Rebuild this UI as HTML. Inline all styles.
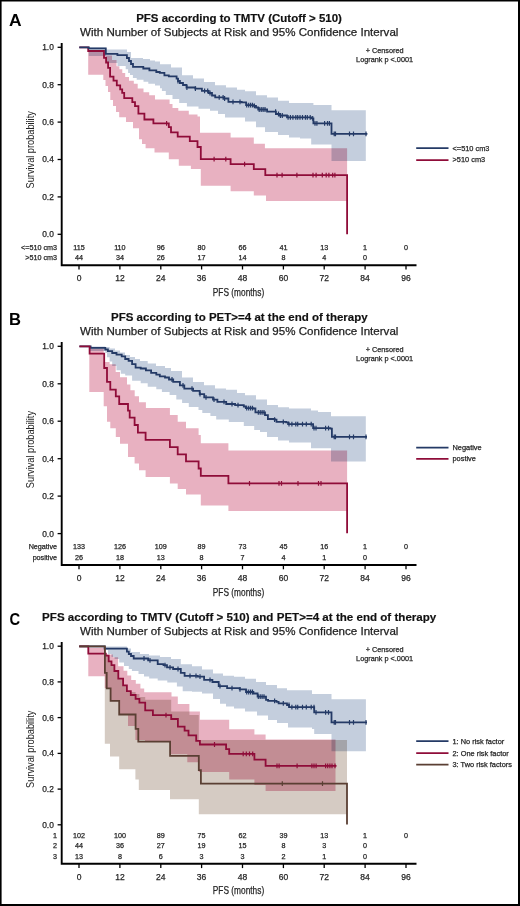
<!DOCTYPE html>
<html><head><meta charset="utf-8"><style>
html,body{margin:0;padding:0;background:#fff;width:520px;height:906px;overflow:hidden}
svg text{font-family:"Liberation Sans",sans-serif}
</style></head><body>
<svg width="520" height="906" viewBox="0 0 520 906" style="display:block">
<rect x="0" y="0" width="520" height="906" fill="#fff"/>
<text x="8.9" y="25.8" font-size="16.6" text-anchor="start" font-weight="bold" fill="#000" textLength="12.6" lengthAdjust="spacingAndGlyphs">A</text>
<text x="136.2" y="22.0" font-size="11.8" text-anchor="start" font-weight="bold" fill="#111" textLength="205.7" lengthAdjust="spacingAndGlyphs" stroke="#111" stroke-width="0.18">PFS according to TMTV (Cutoff &gt; 510)</text>
<text x="80.1" y="36.1" font-size="11.5" text-anchor="start" font-weight="normal" fill="#222" stroke="#222" stroke-width="0.25" textLength="318.3" lengthAdjust="spacingAndGlyphs">With Number of Subjects at Risk and 95% Confidence Interval</text>
<path d="M88.8 47.5 L105.8 47.5 L105.8 49.5 L127.0 49.5 L127.0 52.0 L131.0 52.0 L131.0 58.0 L143.0 58.0 L143.0 59.0 L150.0 59.0 L150.0 60.5 L155.0 60.5 L155.0 61.5 L160.0 61.5 L160.0 64.3 L171.0 64.3 L171.0 67.6 L182.0 67.6 L182.0 75.3 L193.0 75.3 L193.0 78.6 L204.0 78.6 L204.0 81.9 L215.0 81.9 L215.0 85.3 L226.0 85.3 L226.0 87.5 L237.0 87.5 L237.0 89.7 L245.0 89.7 L245.0 91.2 L256.0 91.2 L256.0 95.2 L267.0 95.2 L267.0 97.4 L278.0 97.4 L278.0 100.7 L289.0 100.7 L289.0 102.9 L313.4 102.9 L313.4 105.1 L331.5 105.1 L331.5 110.2 L365.8 110.2 L365.8 110.2 L365.8 161.0 L365.8 161.0 L331.5 161.0 L331.5 144.5 L311.2 144.5 L311.2 138.5 L300.0 138.5 L300.0 137.5 L289.0 137.5 L289.0 135.0 L278.0 135.0 L278.0 132.0 L265.0 132.0 L265.0 127.2 L256.0 127.2 L256.0 121.5 L245.0 121.5 L245.0 117.5 L225.0 117.5 L225.0 114.0 L218.0 114.0 L218.0 110.8 L210.0 110.8 L210.0 108.8 L198.5 108.8 L198.5 106.5 L186.9 106.5 L186.9 103.0 L179.2 103.0 L179.2 99.0 L172.5 99.0 L172.5 95.0 L165.8 95.0 L165.8 91.0 L161.9 91.0 L161.9 88.2 L160.0 88.2 L160.0 85.6 L155.0 85.6 L155.0 83.7 L148.3 83.7 L148.3 81.7 L143.5 81.7 L143.5 79.8 L136.7 79.8 L136.7 77.9 L132.9 77.9 L132.9 75.0 L130.0 75.0 L130.0 73.1 L128.1 73.1 L128.1 69.2 L125.7 69.2 L125.7 65.9 L117.5 65.9 L117.5 63.0 L105.8 63.0 L105.8 56.0 L88.8 56.0Z" fill="#c4cedd" style="mix-blend-mode:multiply"/>
<path d="M88.2 50.5 L103.3 50.5 L103.3 53.0 L106.0 53.0 L106.0 55.5 L112.0 55.5 L112.0 60.0 L116.5 60.0 L116.5 66.3 L119.4 66.3 L119.4 69.2 L122.3 69.2 L122.3 73.1 L125.2 73.1 L125.2 76.9 L129.0 76.9 L129.0 80.8 L133.8 80.8 L133.8 83.7 L137.7 83.7 L137.7 88.5 L143.5 88.5 L143.5 92.3 L149.2 92.3 L149.2 95.2 L155.0 95.2 L155.0 99.5 L169.6 99.5 L169.6 104.0 L172.5 104.0 L172.5 107.9 L178.3 107.9 L178.3 110.8 L188.8 110.8 L188.8 114.6 L197.5 114.6 L197.5 116.5 L200.0 116.5 L200.0 132.7 L230.6 132.7 L230.6 137.6 L253.8 137.6 L253.8 143.8 L264.9 143.8 L264.9 148.2 L347.1 148.2 L347.1 148.2 L347.1 201.1 L347.1 201.1 L266.0 201.1 L266.0 195.6 L253.8 195.6 L253.8 191.2 L230.6 191.2 L230.6 185.7 L200.8 185.7 L200.8 169.1 L190.9 169.1 L190.9 165.8 L178.8 165.8 L178.8 159.2 L168.8 159.2 L168.8 152.6 L154.5 152.6 L154.5 148.2 L145.6 148.2 L145.6 144.0 L142.0 144.0 L142.0 139.3 L139.0 139.3 L139.0 128.3 L133.0 128.3 L133.0 122.0 L126.0 122.0 L126.0 117.3 L119.2 117.3 L119.2 112.0 L116.0 112.0 L116.0 106.0 L113.0 106.0 L113.0 100.0 L110.3 100.0 L110.3 92.0 L108.0 92.0 L108.0 86.0 L105.5 86.0 L105.5 80.0 L103.3 80.0 L103.3 74.8 L88.2 74.8Z" fill="#e8b1c1" style="mix-blend-mode:multiply"/>
<path d="M79.3 47.3H88.2V51.0H104.0V57.8H106.1V62.5H108.1V67.9H110.1V76.6H113.5V80.7H116.8V85.4H120.2V89.4H122.2V92.8H124.2V98.2H132.3V102.2H135.0V106.2H138.4V113.6H144.4V119.5H153.4V123.4H168.8V127.2H171.0V132.3H177.7V136.7H189.8V141.1H197.5V147.0H200.8V159.2H230.6V164.1H253.8V169.1H265.3V175.1H347.1V234.3" fill="none" stroke="#8f0c39" stroke-width="1.8" stroke-linejoin="miter"/>
<path d="M166.6 121.0V125.8M214.1 156.8V161.6M225.8 156.8V161.6M244.6 161.7V166.5M277.0 172.7V177.5M282.1 172.7V177.5M296.9 172.7V177.5M313.0 172.7V177.5M316.1 172.7V177.5M322.3 172.7V177.5M326.2 172.7V177.5M328.9 172.7V177.5M332.7 172.7V177.5M334.9 172.7V177.5" stroke="#8f0c39" stroke-width="1.2"/>
<path d="M79.3 47.3H88.8V48.3H105.8V53.8H117.4V55.2H126.9V58.0H129.0V61.0H131.0V64.0H133.0V66.8H143.3V68.5H149.4V70.3H156.3V72.0H159.8V72.9H164.4V75.3H168.8V76.4H176.6V78.6H178.0V81.0H179.9V83.0H183.0V85.0H186.5V87.5H195.3V88.6H201.9V90.8H208.6V93.0H212.0V95.5H215.2V97.4H224.0V98.5H228.4V101.8H241.7V102.3H246.1V105.1H253.8V105.8H256.0V107.5H258.2V109.5H267.1V111.7H275.9V114.0H280.0V115.5H287.0V117.3H311.2V118.4H313.4V123.4H331.5V133.8H367.4V133.8" fill="none" stroke="#243a66" stroke-width="1.8" stroke-linejoin="miter"/>
<path d="M178.0 78.6V83.4M186.9 85.1V89.9M195.4 86.2V91.0M204.6 88.4V93.2M207.7 88.4V93.2M210.0 90.6V95.4M219.2 95.0V99.8M223.1 95.0V99.8M224.6 96.1V100.9M233.0 99.4V104.2M240.0 99.4V104.2M246.7 102.7V107.5M248.7 102.7V107.5M250.6 102.7V107.5M252.5 102.7V107.5M254.4 103.4V108.2M259.2 107.1V111.9M261.2 107.1V111.9M263.1 107.1V111.9M265.0 107.1V111.9M275.6 109.3V114.1M278.5 111.6V116.4M280.4 113.1V117.9M282.3 113.1V117.9M288.1 114.9V119.7M290.4 114.9V119.7M292.9 114.9V119.7M295.8 114.9V119.7M297.7 114.9V119.7M300.0 114.9V119.7M302.5 114.9V119.7M305.4 114.9V119.7M307.3 114.9V119.7M310.2 114.9V119.7M312.7 116.0V120.8M315.0 121.0V125.8M316.9 121.0V125.8M324.6 121.0V125.8M327.5 121.0V125.8M329.4 121.0V125.8M334.2 131.4V136.2M335.5 131.4V136.2M349.5 131.4V136.2M353.5 131.4V136.2M366.0 131.4V136.2" stroke="#243a66" stroke-width="1.2"/>
<path d="M61.7 43.1V265.2H416.5" fill="none" stroke="#000" stroke-width="1.9"/>
<path d="M57.6 234.3H61.7" stroke="#000" stroke-width="1.3"/>
<text x="53.8" y="237.2" font-size="8.4" text-anchor="end" font-weight="normal" fill="#262626" stroke="#262626" stroke-width="0.25">0.0</text>
<path d="M57.6 196.9H61.7" stroke="#000" stroke-width="1.3"/>
<text x="53.8" y="199.8" font-size="8.4" text-anchor="end" font-weight="normal" fill="#262626" stroke="#262626" stroke-width="0.25">0.2</text>
<path d="M57.6 159.5H61.7" stroke="#000" stroke-width="1.3"/>
<text x="53.8" y="162.4" font-size="8.4" text-anchor="end" font-weight="normal" fill="#262626" stroke="#262626" stroke-width="0.25">0.4</text>
<path d="M57.6 122.1H61.7" stroke="#000" stroke-width="1.3"/>
<text x="53.8" y="125.0" font-size="8.4" text-anchor="end" font-weight="normal" fill="#262626" stroke="#262626" stroke-width="0.25">0.6</text>
<path d="M57.6 84.7H61.7" stroke="#000" stroke-width="1.3"/>
<text x="53.8" y="87.6" font-size="8.4" text-anchor="end" font-weight="normal" fill="#262626" stroke="#262626" stroke-width="0.25">0.8</text>
<path d="M57.6 47.3H61.7" stroke="#000" stroke-width="1.3"/>
<text x="53.8" y="50.2" font-size="8.4" text-anchor="end" font-weight="normal" fill="#262626" stroke="#262626" stroke-width="0.25">1.0</text>
<path d="M79.0 265.2V269.5" stroke="#000" stroke-width="1.3"/>
<text x="79.0" y="281.2" font-size="8.5" text-anchor="middle" font-weight="normal" fill="#262626" stroke="#262626" stroke-width="0.25">0</text>
<path d="M119.9 265.2V269.5" stroke="#000" stroke-width="1.3"/>
<text x="119.9" y="281.2" font-size="8.5" text-anchor="middle" font-weight="normal" fill="#262626" stroke="#262626" stroke-width="0.25">12</text>
<path d="M160.8 265.2V269.5" stroke="#000" stroke-width="1.3"/>
<text x="160.8" y="281.2" font-size="8.5" text-anchor="middle" font-weight="normal" fill="#262626" stroke="#262626" stroke-width="0.25">24</text>
<path d="M201.6 265.2V269.5" stroke="#000" stroke-width="1.3"/>
<text x="201.6" y="281.2" font-size="8.5" text-anchor="middle" font-weight="normal" fill="#262626" stroke="#262626" stroke-width="0.25">36</text>
<path d="M242.5 265.2V269.5" stroke="#000" stroke-width="1.3"/>
<text x="242.5" y="281.2" font-size="8.5" text-anchor="middle" font-weight="normal" fill="#262626" stroke="#262626" stroke-width="0.25">48</text>
<path d="M283.4 265.2V269.5" stroke="#000" stroke-width="1.3"/>
<text x="283.4" y="281.2" font-size="8.5" text-anchor="middle" font-weight="normal" fill="#262626" stroke="#262626" stroke-width="0.25">60</text>
<path d="M324.2 265.2V269.5" stroke="#000" stroke-width="1.3"/>
<text x="324.2" y="281.2" font-size="8.5" text-anchor="middle" font-weight="normal" fill="#262626" stroke="#262626" stroke-width="0.25">72</text>
<path d="M365.1 265.2V269.5" stroke="#000" stroke-width="1.3"/>
<text x="365.1" y="281.2" font-size="8.5" text-anchor="middle" font-weight="normal" fill="#262626" stroke="#262626" stroke-width="0.25">84</text>
<path d="M406.0 265.2V269.5" stroke="#000" stroke-width="1.3"/>
<text x="406.0" y="281.2" font-size="8.5" text-anchor="middle" font-weight="normal" fill="#262626" stroke="#262626" stroke-width="0.25">96</text>
<text x="212.8" y="296.4" font-size="10.9" text-anchor="start" font-weight="normal" fill="#262626" stroke="#262626" stroke-width="0.25" textLength="51.4" lengthAdjust="spacingAndGlyphs">PFS (months)</text>
<text transform="translate(34.1 149.8) rotate(-90)" x="0" y="0" font-size="11.4" text-anchor="middle" fill="#262626" textLength="77.2" lengthAdjust="spacingAndGlyphs">Survival probability</text>
<text x="57" y="250.2" font-size="7.2" text-anchor="end" font-weight="normal" fill="#262626" stroke="#262626" stroke-width="0.25">&lt;=510 cm3</text>
<text x="79.0" y="250.2" font-size="7.2" text-anchor="middle" font-weight="normal" fill="#262626" stroke="#262626" stroke-width="0.25">115</text>
<text x="119.9" y="250.2" font-size="7.2" text-anchor="middle" font-weight="normal" fill="#262626" stroke="#262626" stroke-width="0.25">110</text>
<text x="160.8" y="250.2" font-size="7.2" text-anchor="middle" font-weight="normal" fill="#262626" stroke="#262626" stroke-width="0.25">96</text>
<text x="201.6" y="250.2" font-size="7.2" text-anchor="middle" font-weight="normal" fill="#262626" stroke="#262626" stroke-width="0.25">80</text>
<text x="242.5" y="250.2" font-size="7.2" text-anchor="middle" font-weight="normal" fill="#262626" stroke="#262626" stroke-width="0.25">66</text>
<text x="283.4" y="250.2" font-size="7.2" text-anchor="middle" font-weight="normal" fill="#262626" stroke="#262626" stroke-width="0.25">41</text>
<text x="324.2" y="250.2" font-size="7.2" text-anchor="middle" font-weight="normal" fill="#262626" stroke="#262626" stroke-width="0.25">13</text>
<text x="365.1" y="250.2" font-size="7.2" text-anchor="middle" font-weight="normal" fill="#262626" stroke="#262626" stroke-width="0.25">1</text>
<text x="406.0" y="250.2" font-size="7.2" text-anchor="middle" font-weight="normal" fill="#262626" stroke="#262626" stroke-width="0.25">0</text>
<text x="57" y="260.3" font-size="7.2" text-anchor="end" font-weight="normal" fill="#262626" stroke="#262626" stroke-width="0.25">&gt;510 cm3</text>
<text x="79.0" y="260.3" font-size="7.2" text-anchor="middle" font-weight="normal" fill="#262626" stroke="#262626" stroke-width="0.25">44</text>
<text x="119.9" y="260.3" font-size="7.2" text-anchor="middle" font-weight="normal" fill="#262626" stroke="#262626" stroke-width="0.25">34</text>
<text x="160.8" y="260.3" font-size="7.2" text-anchor="middle" font-weight="normal" fill="#262626" stroke="#262626" stroke-width="0.25">26</text>
<text x="201.6" y="260.3" font-size="7.2" text-anchor="middle" font-weight="normal" fill="#262626" stroke="#262626" stroke-width="0.25">17</text>
<text x="242.5" y="260.3" font-size="7.2" text-anchor="middle" font-weight="normal" fill="#262626" stroke="#262626" stroke-width="0.25">14</text>
<text x="283.4" y="260.3" font-size="7.2" text-anchor="middle" font-weight="normal" fill="#262626" stroke="#262626" stroke-width="0.25">8</text>
<text x="324.2" y="260.3" font-size="7.2" text-anchor="middle" font-weight="normal" fill="#262626" stroke="#262626" stroke-width="0.25">4</text>
<text x="365.1" y="260.3" font-size="7.2" text-anchor="middle" font-weight="normal" fill="#262626" stroke="#262626" stroke-width="0.25">0</text>
<text x="384.6" y="53.2" font-size="7.3" text-anchor="middle" font-weight="normal" fill="#262626" stroke="#262626" stroke-width="0.25">+ Censored</text>
<text x="384.6" y="62.2" font-size="7.3" text-anchor="middle" font-weight="normal" fill="#262626" stroke="#262626" stroke-width="0.25">Logrank p &lt;.0001</text>
<path d="M416.2 148.2H448.5" stroke="#243a66" stroke-width="1.7"/>
<text x="452.5" y="150.5" font-size="7.4" text-anchor="start" font-weight="normal" fill="#262626" stroke="#262626" stroke-width="0.25">&lt;=510 cm3</text>
<path d="M416.2 160.1H448.5" stroke="#8f0c39" stroke-width="1.7"/>
<text x="452.5" y="162.4" font-size="7.4" text-anchor="start" font-weight="normal" fill="#262626" stroke="#262626" stroke-width="0.25">&gt;510 cm3</text>
<text x="9.0" y="325.1" font-size="16.6" text-anchor="start" font-weight="bold" fill="#000">B</text>
<text x="111.0" y="321.4" font-size="11.8" text-anchor="start" font-weight="bold" fill="#111" textLength="256.7" lengthAdjust="spacingAndGlyphs" stroke="#111" stroke-width="0.18">PFS according to PET&gt;=4 at the end of therapy</text>
<text x="80.1" y="335.0" font-size="11.5" text-anchor="start" font-weight="normal" fill="#222" stroke="#222" stroke-width="0.25" textLength="318.3" lengthAdjust="spacingAndGlyphs">With Number of Subjects at Risk and 95% Confidence Interval</text>
<path d="M89.6 346.5 L105.3 346.5 L105.3 347.0 L109.6 347.0 L109.6 348.5 L115.0 348.5 L115.0 350.5 L120.0 350.5 L120.0 352.5 L125.0 352.5 L125.0 355.0 L130.0 355.0 L130.0 357.0 L135.0 357.0 L135.0 359.0 L140.0 359.0 L140.0 361.0 L147.7 361.0 L147.7 363.5 L156.0 363.5 L156.0 366.0 L165.0 366.0 L165.0 368.0 L171.0 368.0 L171.0 370.9 L182.0 370.9 L182.0 377.5 L193.0 377.5 L193.0 381.9 L204.0 381.9 L204.0 385.3 L215.0 385.3 L215.0 388.6 L226.0 388.6 L226.0 389.7 L237.0 389.7 L237.0 393.0 L245.0 393.0 L245.0 395.2 L256.0 395.2 L256.0 399.6 L267.0 399.6 L267.0 405.1 L278.0 405.1 L278.0 407.3 L289.0 407.3 L289.0 408.4 L311.0 408.4 L311.0 410.6 L318.0 410.6 L318.0 412.0 L331.0 412.0 L331.0 416.2 L365.8 416.2 L365.8 416.2 L365.8 461.4 L365.8 461.4 L331.0 461.4 L331.0 448.2 L311.0 448.2 L311.0 442.6 L289.0 442.6 L289.0 440.4 L278.0 440.4 L278.0 437.1 L267.0 437.1 L267.0 432.0 L260.0 432.0 L260.0 430.0 L254.2 430.0 L254.2 426.0 L243.8 426.0 L243.8 422.0 L228.8 422.0 L228.8 419.5 L216.2 419.5 L216.2 416.0 L210.4 416.0 L210.4 413.0 L202.3 413.0 L202.3 410.0 L198.5 410.0 L198.5 407.0 L188.8 407.0 L188.8 403.0 L182.1 403.0 L182.1 399.5 L176.3 399.5 L176.3 395.0 L169.6 395.0 L169.6 392.0 L161.9 392.0 L161.9 389.3 L156.3 389.3 L156.3 386.7 L147.7 386.7 L147.7 383.3 L140.7 383.3 L140.7 380.7 L132.1 380.7 L132.1 375.5 L125.2 375.5 L125.2 373.7 L120.8 373.7 L120.8 370.3 L116.5 370.3 L116.5 366.0 L112.2 366.0 L112.2 361.6 L109.6 361.6 L109.6 357.3 L107.0 357.3 L107.0 353.0 L105.3 353.0 L105.3 351.0 L89.6 351.0Z" fill="#c4cedd" style="mix-blend-mode:multiply"/>
<path d="M89.3 348.8 L103.7 348.8 L103.7 362.0 L109.6 362.0 L109.6 364.2 L115.7 364.2 L115.7 372.0 L120.0 372.0 L120.0 377.2 L127.0 377.2 L127.0 384.4 L130.4 384.4 L130.4 390.2 L134.7 390.2 L134.7 396.2 L139.0 396.2 L139.0 402.3 L145.9 402.3 L145.9 408.0 L169.9 408.0 L169.9 415.1 L177.7 415.1 L177.7 421.7 L186.0 421.7 L186.0 428.3 L198.6 428.3 L198.6 434.9 L200.8 434.9 L200.8 443.3 L228.4 443.3 L228.4 450.4 L347.1 450.4 L347.1 450.4 L347.1 511.1 L347.1 511.1 L228.4 511.1 L228.4 505.6 L200.8 505.6 L200.8 494.5 L186.0 494.5 L186.0 489.0 L177.7 489.0 L177.7 483.5 L169.9 483.5 L169.9 476.9 L145.6 476.9 L145.6 470.2 L139.0 470.2 L139.0 463.6 L134.6 463.6 L134.6 457.0 L128.0 457.0 L128.0 443.8 L120.0 443.8 L120.0 437.1 L115.8 437.1 L115.8 428.3 L110.3 428.3 L110.3 421.7 L107.0 421.7 L107.0 406.2 L103.7 406.2 L103.7 391.9 L89.3 391.9Z" fill="#e8b1c1" style="mix-blend-mode:multiply"/>
<path d="M79.4 346.4H90.6V347.8H105.3V349.5H107.9V351.2H112.2V353.0H116.5V354.7H121.7V356.4H125.2V359.0H128.6V360.8H132.1V364.2H135.6V367.7H140.7V368.5H145.9V370.3H151.1V372.9H156.3V374.6H159.8V376.3H165.0V377.5H169.0V379.5H173.2V381.9H179.9V385.3H184.3V388.6H193.1V390.8H199.7V394.1H204.2V397.4H213.0V399.6H217.4V401.8H226.2V404.0H235.1V405.1H243.8V406.5H245.8V408.1H253.5V408.5H255.4V412.3H265.0V415.2H267.9V419.0H274.6V419.6H276.5V421.9H286.2V422.3H288.1V424.2H311.2V424.2H313.1V428.1H330.4V428.7H331.9V436.9H367.0V436.9" fill="none" stroke="#243a66" stroke-width="1.8" stroke-linejoin="miter"/>
<path d="M172.0 377.1V381.9M183.0 382.9V387.7M192.0 386.2V391.0M200.0 391.7V396.5M206.0 395.0V399.8M214.0 397.2V402.0M224.0 399.4V404.2M232.0 401.6V406.4M238.0 402.7V407.5M246.7 405.7V410.5M248.7 405.7V410.5M250.6 405.7V410.5M252.5 405.7V410.5M258.3 409.9V414.7M260.2 409.9V414.7M262.1 409.9V414.7M264.0 409.9V414.7M274.6 417.2V422.0M283.3 419.5V424.3M289.0 421.8V426.6M291.9 421.8V426.6M295.8 421.8V426.6M297.7 421.8V426.6M302.5 421.8V426.6M306.3 421.8V426.6M311.2 421.8V426.6M314.0 425.7V430.5M316.0 425.7V430.5M325.6 425.7V430.5M328.5 425.7V430.5M334.2 434.5V439.3M335.5 434.5V439.3M349.5 434.5V439.3M353.5 434.5V439.3M366.0 434.5V439.3" stroke="#243a66" stroke-width="1.2"/>
<path d="M79.4 346.4H89.6V353.6H104.2V368.0H107.0V381.9H110.3V389.7H115.8V396.3H119.2V404.0H128.0V410.6H129.7V417.7H134.6V425.0H137.9V432.7H145.6V439.8H169.9V447.1H177.7V454.3H186.0V461.4H198.6V468.5H200.8V475.8H228.4V483.3H347.1V533.2" fill="none" stroke="#8f0c39" stroke-width="1.8" stroke-linejoin="miter"/>
<path d="M249.5 480.9V485.7M279.0 480.9V485.7M281.5 480.9V485.7M298.0 480.9V485.7M318.5 480.9V485.7M321.0 480.9V485.7" stroke="#8f0c39" stroke-width="1.2"/>
<path d="M61.7 342.1V565.0H416.5" fill="none" stroke="#000" stroke-width="1.9"/>
<path d="M57.6 533.6H61.7" stroke="#000" stroke-width="1.3"/>
<text x="53.8" y="536.5" font-size="8.4" text-anchor="end" font-weight="normal" fill="#262626" stroke="#262626" stroke-width="0.25">0.0</text>
<path d="M57.6 496.1H61.7" stroke="#000" stroke-width="1.3"/>
<text x="53.8" y="499.0" font-size="8.4" text-anchor="end" font-weight="normal" fill="#262626" stroke="#262626" stroke-width="0.25">0.2</text>
<path d="M57.6 458.7H61.7" stroke="#000" stroke-width="1.3"/>
<text x="53.8" y="461.6" font-size="8.4" text-anchor="end" font-weight="normal" fill="#262626" stroke="#262626" stroke-width="0.25">0.4</text>
<path d="M57.6 421.2H61.7" stroke="#000" stroke-width="1.3"/>
<text x="53.8" y="424.1" font-size="8.4" text-anchor="end" font-weight="normal" fill="#262626" stroke="#262626" stroke-width="0.25">0.6</text>
<path d="M57.6 383.8H61.7" stroke="#000" stroke-width="1.3"/>
<text x="53.8" y="386.7" font-size="8.4" text-anchor="end" font-weight="normal" fill="#262626" stroke="#262626" stroke-width="0.25">0.8</text>
<path d="M57.6 346.3H61.7" stroke="#000" stroke-width="1.3"/>
<text x="53.8" y="349.2" font-size="8.4" text-anchor="end" font-weight="normal" fill="#262626" stroke="#262626" stroke-width="0.25">1.0</text>
<path d="M79.0 565.0V569.3" stroke="#000" stroke-width="1.3"/>
<text x="79.0" y="581.0" font-size="8.5" text-anchor="middle" font-weight="normal" fill="#262626" stroke="#262626" stroke-width="0.25">0</text>
<path d="M119.9 565.0V569.3" stroke="#000" stroke-width="1.3"/>
<text x="119.9" y="581.0" font-size="8.5" text-anchor="middle" font-weight="normal" fill="#262626" stroke="#262626" stroke-width="0.25">12</text>
<path d="M160.8 565.0V569.3" stroke="#000" stroke-width="1.3"/>
<text x="160.8" y="581.0" font-size="8.5" text-anchor="middle" font-weight="normal" fill="#262626" stroke="#262626" stroke-width="0.25">24</text>
<path d="M201.6 565.0V569.3" stroke="#000" stroke-width="1.3"/>
<text x="201.6" y="581.0" font-size="8.5" text-anchor="middle" font-weight="normal" fill="#262626" stroke="#262626" stroke-width="0.25">36</text>
<path d="M242.5 565.0V569.3" stroke="#000" stroke-width="1.3"/>
<text x="242.5" y="581.0" font-size="8.5" text-anchor="middle" font-weight="normal" fill="#262626" stroke="#262626" stroke-width="0.25">48</text>
<path d="M283.4 565.0V569.3" stroke="#000" stroke-width="1.3"/>
<text x="283.4" y="581.0" font-size="8.5" text-anchor="middle" font-weight="normal" fill="#262626" stroke="#262626" stroke-width="0.25">60</text>
<path d="M324.2 565.0V569.3" stroke="#000" stroke-width="1.3"/>
<text x="324.2" y="581.0" font-size="8.5" text-anchor="middle" font-weight="normal" fill="#262626" stroke="#262626" stroke-width="0.25">72</text>
<path d="M365.1 565.0V569.3" stroke="#000" stroke-width="1.3"/>
<text x="365.1" y="581.0" font-size="8.5" text-anchor="middle" font-weight="normal" fill="#262626" stroke="#262626" stroke-width="0.25">84</text>
<path d="M406.0 565.0V569.3" stroke="#000" stroke-width="1.3"/>
<text x="406.0" y="581.0" font-size="8.5" text-anchor="middle" font-weight="normal" fill="#262626" stroke="#262626" stroke-width="0.25">96</text>
<text x="212.8" y="596.2" font-size="10.9" text-anchor="start" font-weight="normal" fill="#262626" stroke="#262626" stroke-width="0.25" textLength="51.4" lengthAdjust="spacingAndGlyphs">PFS (months)</text>
<text transform="translate(34.1 449.6) rotate(-90)" x="0" y="0" font-size="11.4" text-anchor="middle" fill="#262626" textLength="77.2" lengthAdjust="spacingAndGlyphs">Survival probability</text>
<text x="57" y="549.4" font-size="7.2" text-anchor="end" font-weight="normal" fill="#262626" stroke="#262626" stroke-width="0.25">Negative</text>
<text x="79.0" y="549.4" font-size="7.2" text-anchor="middle" font-weight="normal" fill="#262626" stroke="#262626" stroke-width="0.25">133</text>
<text x="119.9" y="549.4" font-size="7.2" text-anchor="middle" font-weight="normal" fill="#262626" stroke="#262626" stroke-width="0.25">126</text>
<text x="160.8" y="549.4" font-size="7.2" text-anchor="middle" font-weight="normal" fill="#262626" stroke="#262626" stroke-width="0.25">109</text>
<text x="201.6" y="549.4" font-size="7.2" text-anchor="middle" font-weight="normal" fill="#262626" stroke="#262626" stroke-width="0.25">89</text>
<text x="242.5" y="549.4" font-size="7.2" text-anchor="middle" font-weight="normal" fill="#262626" stroke="#262626" stroke-width="0.25">73</text>
<text x="283.4" y="549.4" font-size="7.2" text-anchor="middle" font-weight="normal" fill="#262626" stroke="#262626" stroke-width="0.25">45</text>
<text x="324.2" y="549.4" font-size="7.2" text-anchor="middle" font-weight="normal" fill="#262626" stroke="#262626" stroke-width="0.25">16</text>
<text x="365.1" y="549.4" font-size="7.2" text-anchor="middle" font-weight="normal" fill="#262626" stroke="#262626" stroke-width="0.25">1</text>
<text x="406.0" y="549.4" font-size="7.2" text-anchor="middle" font-weight="normal" fill="#262626" stroke="#262626" stroke-width="0.25">0</text>
<text x="57" y="559.6" font-size="7.2" text-anchor="end" font-weight="normal" fill="#262626" stroke="#262626" stroke-width="0.25">positive</text>
<text x="79.0" y="559.6" font-size="7.2" text-anchor="middle" font-weight="normal" fill="#262626" stroke="#262626" stroke-width="0.25">26</text>
<text x="119.9" y="559.6" font-size="7.2" text-anchor="middle" font-weight="normal" fill="#262626" stroke="#262626" stroke-width="0.25">18</text>
<text x="160.8" y="559.6" font-size="7.2" text-anchor="middle" font-weight="normal" fill="#262626" stroke="#262626" stroke-width="0.25">13</text>
<text x="201.6" y="559.6" font-size="7.2" text-anchor="middle" font-weight="normal" fill="#262626" stroke="#262626" stroke-width="0.25">8</text>
<text x="242.5" y="559.6" font-size="7.2" text-anchor="middle" font-weight="normal" fill="#262626" stroke="#262626" stroke-width="0.25">7</text>
<text x="283.4" y="559.6" font-size="7.2" text-anchor="middle" font-weight="normal" fill="#262626" stroke="#262626" stroke-width="0.25">4</text>
<text x="324.2" y="559.6" font-size="7.2" text-anchor="middle" font-weight="normal" fill="#262626" stroke="#262626" stroke-width="0.25">1</text>
<text x="365.1" y="559.6" font-size="7.2" text-anchor="middle" font-weight="normal" fill="#262626" stroke="#262626" stroke-width="0.25">0</text>
<text x="384.6" y="352.4" font-size="7.3" text-anchor="middle" font-weight="normal" fill="#262626" stroke="#262626" stroke-width="0.25">+ Censored</text>
<text x="384.6" y="361.4" font-size="7.3" text-anchor="middle" font-weight="normal" fill="#262626" stroke="#262626" stroke-width="0.25">Logrank p &lt;.0001</text>
<path d="M416.2 447.7H448.5" stroke="#243a66" stroke-width="1.7"/>
<text x="452.5" y="450.0" font-size="7.4" text-anchor="start" font-weight="normal" fill="#262626" stroke="#262626" stroke-width="0.25">Negative</text>
<path d="M416.2 458.8H448.5" stroke="#8f0c39" stroke-width="1.7"/>
<text x="452.5" y="461.1" font-size="7.4" text-anchor="start" font-weight="normal" fill="#262626" stroke="#262626" stroke-width="0.25">postive</text>
<text x="9.4" y="625.0" font-size="16.6" text-anchor="start" font-weight="bold" fill="#000" textLength="10.6" lengthAdjust="spacingAndGlyphs">C</text>
<text x="42.1" y="621.2" font-size="11.8" text-anchor="start" font-weight="bold" fill="#111" textLength="394.2" lengthAdjust="spacingAndGlyphs" stroke="#111" stroke-width="0.18">PFS according to TMTV (Cutoff &gt; 510) and PET&gt;=4 at the end of therapy</text>
<text x="80.1" y="635.0" font-size="11.5" text-anchor="start" font-weight="normal" fill="#222" stroke="#222" stroke-width="0.25" textLength="318.3" lengthAdjust="spacingAndGlyphs">With Number of Subjects at Risk and 95% Confidence Interval</text>
<path d="M104.6 646.5 L126.9 646.5 L126.9 648.6 L131.0 648.6 L131.0 652.0 L140.0 652.0 L140.0 654.0 L149.0 654.0 L149.0 655.6 L160.0 655.6 L160.0 657.0 L171.0 657.0 L171.0 659.0 L180.8 659.0 L180.8 664.2 L192.0 664.2 L192.0 666.2 L202.0 666.2 L202.0 669.4 L213.0 669.4 L213.0 673.6 L223.0 673.6 L223.0 675.7 L234.0 675.7 L234.0 676.7 L245.0 676.7 L245.0 678.8 L256.0 678.8 L256.0 682.0 L266.0 682.0 L266.0 685.1 L277.0 685.1 L277.0 688.2 L287.0 688.2 L287.0 690.3 L312.0 690.3 L312.0 694.1 L331.5 694.1 L331.5 699.2 L365.9 699.2 L365.9 699.2 L365.9 751.2 L365.9 751.2 L331.5 751.2 L331.5 734.0 L314.2 734.0 L314.2 729.0 L312.0 729.0 L312.0 727.5 L288.0 727.5 L288.0 723.0 L277.0 723.0 L277.0 720.0 L268.0 720.0 L268.0 715.5 L257.0 715.5 L257.0 711.5 L245.0 711.5 L245.0 708.5 L234.0 708.5 L234.0 706.5 L226.0 706.5 L226.0 703.8 L220.0 703.8 L220.0 699.0 L213.0 699.0 L213.0 693.5 L202.0 693.5 L202.0 691.8 L192.0 691.8 L192.0 691.2 L182.7 691.2 L182.7 686.5 L176.9 686.5 L176.9 682.5 L167.3 682.5 L167.3 680.5 L157.7 680.5 L157.7 678.5 L149.2 678.5 L149.2 676.5 L144.0 676.5 L144.0 674.0 L138.5 674.0 L138.5 671.0 L131.9 671.0 L131.9 669.0 L128.8 669.0 L128.8 666.0 L124.0 666.0 L124.0 662.5 L119.2 662.5 L119.2 659.0 L114.6 659.0 L114.6 657.0 L111.5 657.0 L111.5 654.0 L108.0 654.0 L108.0 650.0 L104.6 650.0Z" fill="#c4cedd" style="mix-blend-mode:multiply"/>
<path d="M88.3 647.8 L105.8 647.8 L105.8 654.6 L112.9 654.6 L112.9 657.3 L118.1 657.3 L118.1 666.2 L123.5 666.2 L123.5 670.8 L127.3 670.8 L127.3 675.4 L131.2 675.4 L131.2 680.0 L135.8 680.0 L135.8 683.8 L140.4 683.8 L140.4 688.5 L144.2 688.5 L144.2 692.3 L171.5 692.3 L171.5 696.6 L177.8 696.6 L177.8 704.0 L189.4 704.0 L189.4 711.5 L199.9 711.5 L199.9 719.7 L229.2 719.7 L229.2 729.2 L254.4 729.2 L254.4 734.4 L265.6 734.4 L265.6 739.6 L335.5 739.6 L335.5 739.6 L335.5 791.0 L335.5 791.0 L265.6 791.0 L265.6 785.0 L254.4 785.0 L254.4 779.5 L229.2 779.5 L229.2 772.0 L198.8 772.0 L198.8 762.3 L187.3 762.3 L187.3 754.2 L170.0 754.2 L170.0 741.5 L145.0 741.5 L145.0 740.0 L135.4 740.0 L135.4 726.0 L128.0 726.0 L128.0 714.6 L119.6 714.6 L119.6 700.8 L110.4 700.8 L110.4 688.0 L104.8 688.0 L104.8 676.3 L88.3 676.3Z" fill="#e8b1c1" style="mix-blend-mode:multiply"/>
<path d="M104.8 647.0 L106.0 647.0 L106.0 656.0 L108.7 656.0 L108.7 661.3 L111.5 661.3 L111.5 665.2 L114.4 665.2 L114.4 671.0 L118.3 671.0 L118.3 678.7 L123.1 678.7 L123.1 685.4 L126.9 685.4 L126.9 691.2 L130.8 691.2 L130.8 692.0 L135.6 692.0 L135.6 694.0 L139.4 694.0 L139.4 697.0 L145.2 697.0 L145.2 699.7 L171.2 699.7 L171.2 711.5 L189.4 711.5 L189.4 715.0 L198.8 715.0 L198.8 740.0 L347.0 740.0 L347.0 740.0 L347.0 814.2 L347.0 814.2 L198.8 814.2 L198.8 799.2 L170.0 799.2 L170.0 790.0 L138.8 790.0 L138.8 779.6 L135.4 779.6 L135.4 769.2 L119.2 769.2 L119.2 756.5 L110.0 756.5 L110.0 743.8 L104.8 743.8Z" fill="#d5cbc3" style="mix-blend-mode:multiply"/>
<path d="M79.2 646.3H104.6V648.6H126.9V651.7H128.8V654.0H131.0V656.0H133.7V658.5H148.1V660.4H157.7V664.2H163.5V665.2H167.0V667.3H173.1V669.0H180.8V672.9H184.6V675.8H197.8V676.7H204.1V679.9H212.4V682.0H218.7V686.2H227.1V688.2H239.7V689.3H246.0V692.0H253.4V693.5H257.6V696.6H266.0V699.8H268.1V700.8H276.5V701.9H278.6V703.4H287.0V705.0H289.1V707.1H312.1V707.1H314.2V712.4H331.5V722.4H367.0V722.4" fill="none" stroke="#243a66" stroke-width="1.8" stroke-linejoin="miter"/>
<path d="M144.0 656.1V660.9M150.0 658.0V662.8M165.0 662.8V667.6M170.0 664.9V669.7M178.0 666.6V671.4M190.0 673.4V678.2M196.0 673.4V678.2M200.0 674.3V679.1M210.0 677.5V682.3M220.0 683.8V688.6M232.0 685.8V690.6M240.0 686.9V691.7M246.7 689.6V694.4M248.7 689.6V694.4M250.6 689.6V694.4M252.5 689.6V694.4M258.3 694.2V699.0M260.2 694.2V699.0M262.1 694.2V699.0M264.0 694.2V699.0M274.6 698.4V703.2M283.3 701.0V705.8M289.0 702.6V707.4M291.9 704.7V709.5M295.8 704.7V709.5M297.7 704.7V709.5M302.5 704.7V709.5M306.3 704.7V709.5M311.2 704.7V709.5M314.0 704.7V709.5M316.0 710.0V714.8M325.6 710.0V714.8M328.5 710.0V714.8M334.2 720.0V724.8M335.5 720.0V724.8M349.5 720.0V724.8M353.5 720.0V724.8M366.0 720.0V724.8" stroke="#243a66" stroke-width="1.2"/>
<path d="M79.2 646.3H88.3V653.6H105.8V655.6H108.7V661.3H111.5V665.2H114.4V671.0H118.3V678.7H123.1V685.4H126.9V691.2H130.8V695.0H135.6V698.8H139.4V702.7H145.2V710.4H152.9V715.2H171.2V719.0H177.9V726.7H184.6V730.6H188.5V735.4H196.2V740.8H199.9V744.5H226.1V749.1H229.2V753.9H254.4V759.6H265.6V765.9H336.5V765.9" fill="none" stroke="#8f0c39" stroke-width="1.8" stroke-linejoin="miter"/>
<path d="M166.0 712.8V717.6M214.5 742.1V746.9M243.2 751.5V756.3M246.3 751.5V756.3M249.5 751.5V756.3M252.7 751.5V756.3M277.0 763.5V768.3M279.1 763.5V768.3M297.1 763.5V768.3M311.9 763.5V768.3M314.0 763.5V768.3M316.1 763.5V768.3M325.6 763.5V768.3M327.7 763.5V768.3M329.9 763.5V768.3M332.0 763.5V768.3M335.0 763.5V768.3" stroke="#8f0c39" stroke-width="1.2"/>
<path d="M79.2 646.3H104.9V672.9H106.7V688.3H110.6V700.8H119.2V714.5H135.6V728.8H138.3V741.6H170.1V755.8H198.8V770.1H200.9V783.7H347.0V824.6" fill="none" stroke="#5a3f33" stroke-width="1.8" stroke-linejoin="miter"/>
<path d="M282.3 781.3V786.1M322.5 781.3V786.1" stroke="#5a3f33" stroke-width="1.2"/>
<path d="M61.7 642.0V863.8H416.5" fill="none" stroke="#000" stroke-width="1.9"/>
<path d="M57.6 824.8H61.7" stroke="#000" stroke-width="1.3"/>
<text x="53.8" y="827.7" font-size="8.4" text-anchor="end" font-weight="normal" fill="#262626" stroke="#262626" stroke-width="0.25">0.0</text>
<path d="M57.6 789.1H61.7" stroke="#000" stroke-width="1.3"/>
<text x="53.8" y="792.0" font-size="8.4" text-anchor="end" font-weight="normal" fill="#262626" stroke="#262626" stroke-width="0.25">0.2</text>
<path d="M57.6 753.4H61.7" stroke="#000" stroke-width="1.3"/>
<text x="53.8" y="756.3" font-size="8.4" text-anchor="end" font-weight="normal" fill="#262626" stroke="#262626" stroke-width="0.25">0.4</text>
<path d="M57.6 717.6H61.7" stroke="#000" stroke-width="1.3"/>
<text x="53.8" y="720.5" font-size="8.4" text-anchor="end" font-weight="normal" fill="#262626" stroke="#262626" stroke-width="0.25">0.6</text>
<path d="M57.6 681.9H61.7" stroke="#000" stroke-width="1.3"/>
<text x="53.8" y="684.8" font-size="8.4" text-anchor="end" font-weight="normal" fill="#262626" stroke="#262626" stroke-width="0.25">0.8</text>
<path d="M57.6 646.2H61.7" stroke="#000" stroke-width="1.3"/>
<text x="53.8" y="649.1" font-size="8.4" text-anchor="end" font-weight="normal" fill="#262626" stroke="#262626" stroke-width="0.25">1.0</text>
<path d="M79.0 863.8V868.1" stroke="#000" stroke-width="1.3"/>
<text x="79.0" y="879.8" font-size="8.5" text-anchor="middle" font-weight="normal" fill="#262626" stroke="#262626" stroke-width="0.25">0</text>
<path d="M119.9 863.8V868.1" stroke="#000" stroke-width="1.3"/>
<text x="119.9" y="879.8" font-size="8.5" text-anchor="middle" font-weight="normal" fill="#262626" stroke="#262626" stroke-width="0.25">12</text>
<path d="M160.8 863.8V868.1" stroke="#000" stroke-width="1.3"/>
<text x="160.8" y="879.8" font-size="8.5" text-anchor="middle" font-weight="normal" fill="#262626" stroke="#262626" stroke-width="0.25">24</text>
<path d="M201.6 863.8V868.1" stroke="#000" stroke-width="1.3"/>
<text x="201.6" y="879.8" font-size="8.5" text-anchor="middle" font-weight="normal" fill="#262626" stroke="#262626" stroke-width="0.25">36</text>
<path d="M242.5 863.8V868.1" stroke="#000" stroke-width="1.3"/>
<text x="242.5" y="879.8" font-size="8.5" text-anchor="middle" font-weight="normal" fill="#262626" stroke="#262626" stroke-width="0.25">48</text>
<path d="M283.4 863.8V868.1" stroke="#000" stroke-width="1.3"/>
<text x="283.4" y="879.8" font-size="8.5" text-anchor="middle" font-weight="normal" fill="#262626" stroke="#262626" stroke-width="0.25">60</text>
<path d="M324.2 863.8V868.1" stroke="#000" stroke-width="1.3"/>
<text x="324.2" y="879.8" font-size="8.5" text-anchor="middle" font-weight="normal" fill="#262626" stroke="#262626" stroke-width="0.25">72</text>
<path d="M365.1 863.8V868.1" stroke="#000" stroke-width="1.3"/>
<text x="365.1" y="879.8" font-size="8.5" text-anchor="middle" font-weight="normal" fill="#262626" stroke="#262626" stroke-width="0.25">84</text>
<path d="M406.0 863.8V868.1" stroke="#000" stroke-width="1.3"/>
<text x="406.0" y="879.8" font-size="8.5" text-anchor="middle" font-weight="normal" fill="#262626" stroke="#262626" stroke-width="0.25">96</text>
<text x="212.8" y="894.1" font-size="10.9" text-anchor="start" font-weight="normal" fill="#262626" stroke="#262626" stroke-width="0.25" textLength="51.4" lengthAdjust="spacingAndGlyphs">PFS (months)</text>
<text transform="translate(34.1 749.3) rotate(-90)" x="0" y="0" font-size="11.4" text-anchor="middle" fill="#262626" textLength="77.2" lengthAdjust="spacingAndGlyphs">Survival probability</text>
<text x="57" y="837.6" font-size="7.2" text-anchor="end" font-weight="normal" fill="#262626" stroke="#262626" stroke-width="0.25">1</text>
<text x="79.0" y="837.6" font-size="7.2" text-anchor="middle" font-weight="normal" fill="#262626" stroke="#262626" stroke-width="0.25">102</text>
<text x="119.9" y="837.6" font-size="7.2" text-anchor="middle" font-weight="normal" fill="#262626" stroke="#262626" stroke-width="0.25">100</text>
<text x="160.8" y="837.6" font-size="7.2" text-anchor="middle" font-weight="normal" fill="#262626" stroke="#262626" stroke-width="0.25">89</text>
<text x="201.6" y="837.6" font-size="7.2" text-anchor="middle" font-weight="normal" fill="#262626" stroke="#262626" stroke-width="0.25">75</text>
<text x="242.5" y="837.6" font-size="7.2" text-anchor="middle" font-weight="normal" fill="#262626" stroke="#262626" stroke-width="0.25">62</text>
<text x="283.4" y="837.6" font-size="7.2" text-anchor="middle" font-weight="normal" fill="#262626" stroke="#262626" stroke-width="0.25">39</text>
<text x="324.2" y="837.6" font-size="7.2" text-anchor="middle" font-weight="normal" fill="#262626" stroke="#262626" stroke-width="0.25">13</text>
<text x="365.1" y="837.6" font-size="7.2" text-anchor="middle" font-weight="normal" fill="#262626" stroke="#262626" stroke-width="0.25">1</text>
<text x="406.0" y="837.6" font-size="7.2" text-anchor="middle" font-weight="normal" fill="#262626" stroke="#262626" stroke-width="0.25">0</text>
<text x="57" y="848.4" font-size="7.2" text-anchor="end" font-weight="normal" fill="#262626" stroke="#262626" stroke-width="0.25">2</text>
<text x="79.0" y="848.4" font-size="7.2" text-anchor="middle" font-weight="normal" fill="#262626" stroke="#262626" stroke-width="0.25">44</text>
<text x="119.9" y="848.4" font-size="7.2" text-anchor="middle" font-weight="normal" fill="#262626" stroke="#262626" stroke-width="0.25">36</text>
<text x="160.8" y="848.4" font-size="7.2" text-anchor="middle" font-weight="normal" fill="#262626" stroke="#262626" stroke-width="0.25">27</text>
<text x="201.6" y="848.4" font-size="7.2" text-anchor="middle" font-weight="normal" fill="#262626" stroke="#262626" stroke-width="0.25">19</text>
<text x="242.5" y="848.4" font-size="7.2" text-anchor="middle" font-weight="normal" fill="#262626" stroke="#262626" stroke-width="0.25">15</text>
<text x="283.4" y="848.4" font-size="7.2" text-anchor="middle" font-weight="normal" fill="#262626" stroke="#262626" stroke-width="0.25">8</text>
<text x="324.2" y="848.4" font-size="7.2" text-anchor="middle" font-weight="normal" fill="#262626" stroke="#262626" stroke-width="0.25">3</text>
<text x="365.1" y="848.4" font-size="7.2" text-anchor="middle" font-weight="normal" fill="#262626" stroke="#262626" stroke-width="0.25">0</text>
<text x="57" y="858.8" font-size="7.2" text-anchor="end" font-weight="normal" fill="#262626" stroke="#262626" stroke-width="0.25">3</text>
<text x="79.0" y="858.8" font-size="7.2" text-anchor="middle" font-weight="normal" fill="#262626" stroke="#262626" stroke-width="0.25">13</text>
<text x="119.9" y="858.8" font-size="7.2" text-anchor="middle" font-weight="normal" fill="#262626" stroke="#262626" stroke-width="0.25">8</text>
<text x="160.8" y="858.8" font-size="7.2" text-anchor="middle" font-weight="normal" fill="#262626" stroke="#262626" stroke-width="0.25">6</text>
<text x="201.6" y="858.8" font-size="7.2" text-anchor="middle" font-weight="normal" fill="#262626" stroke="#262626" stroke-width="0.25">3</text>
<text x="242.5" y="858.8" font-size="7.2" text-anchor="middle" font-weight="normal" fill="#262626" stroke="#262626" stroke-width="0.25">3</text>
<text x="283.4" y="858.8" font-size="7.2" text-anchor="middle" font-weight="normal" fill="#262626" stroke="#262626" stroke-width="0.25">2</text>
<text x="324.2" y="858.8" font-size="7.2" text-anchor="middle" font-weight="normal" fill="#262626" stroke="#262626" stroke-width="0.25">1</text>
<text x="365.1" y="858.8" font-size="7.2" text-anchor="middle" font-weight="normal" fill="#262626" stroke="#262626" stroke-width="0.25">0</text>
<text x="384.6" y="652.2" font-size="7.3" text-anchor="middle" font-weight="normal" fill="#262626" stroke="#262626" stroke-width="0.25">+ Censored</text>
<text x="384.6" y="661.2" font-size="7.3" text-anchor="middle" font-weight="normal" fill="#262626" stroke="#262626" stroke-width="0.25">Logrank p &lt;.0001</text>
<path d="M416.2 741.2H448.5" stroke="#243a66" stroke-width="1.7"/>
<text x="452.5" y="743.5" font-size="7.4" text-anchor="start" font-weight="normal" fill="#262626" stroke="#262626" stroke-width="0.25">1: No risk factor</text>
<path d="M416.2 753.2H448.5" stroke="#8f0c39" stroke-width="1.7"/>
<text x="452.5" y="755.5" font-size="7.4" text-anchor="start" font-weight="normal" fill="#262626" stroke="#262626" stroke-width="0.25">2: One risk factor</text>
<path d="M416.2 764.7H448.5" stroke="#5a3f33" stroke-width="1.7"/>
<text x="452.5" y="767.0" font-size="7.4" text-anchor="start" font-weight="normal" fill="#262626" stroke="#262626" stroke-width="0.25">3: Two risk factors</text>
<path d="M0 0H520V906H0Z M1.6 1.6V904H518V1.6Z" fill="#000" fill-rule="evenodd"/>
</svg>
</body></html>
